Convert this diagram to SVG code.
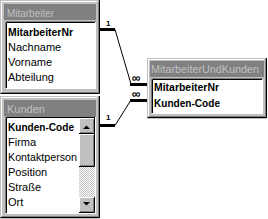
<svg xmlns="http://www.w3.org/2000/svg" width="268" height="219" viewBox="0 0 268 219">
<defs>
<style>
.frame{fill:#c0c0c0}
.dk{stroke:#808080;stroke-width:1;fill:none}
.bk{stroke:#000;stroke-width:1;fill:none}
.wh{stroke:#fff;stroke-width:1;fill:none}
.tbar{fill:#808080}
.ttl{font-family:"Liberation Sans",Arial,sans-serif;font-size:11px;fill:#c0c0c0}
.it{font-family:"Liberation Sans",Arial,sans-serif;font-size:11px;fill:#000}
.b{font-weight:bold}
.list{fill:#fff}
.thick{stroke:#000;stroke-width:3;fill:none}
.thin{stroke:#000;stroke-width:1;fill:none}
.lbl{font-family:"Liberation Sans",Arial,sans-serif;font-size:8px;font-weight:bold;fill:#000}
.inf{font-family:"Liberation Sans",Arial,sans-serif;font-size:12px;font-weight:bold;fill:#000}
</style>
<pattern id="chk" width="2" height="2" patternUnits="userSpaceOnUse">
<rect width="2" height="2" fill="#fff"/>
<rect width="1" height="1" fill="#c0c0c0"/>
<rect x="1" y="1" width="1" height="1" fill="#c0c0c0"/>
</pattern>
</defs>
<rect width="268" height="219" fill="#fff"/>

<g id="mitarbeiter">
<rect class="frame" x="0" y="0" width="100" height="94"/>
<path class="wh" d="M1.5,92.5 V1.5 H97.5"/>
<path class="dk" d="M1.5,92.5 H98.5 V1.5"/>
<path class="bk" d="M0.5,93.5 H99.5 V0"/>
<rect class="tbar" x="4" y="4" width="92" height="16"/>
<text class="ttl" x="7" y="17" textLength="47" lengthAdjust="spacingAndGlyphs">Mitarbeiter</text>
<rect class="list" x="5" y="21" width="91" height="68"/>
<path class="dk" d="M5.5,89 V21.5 H96"/>
<path class="bk" d="M6.5,88 V22.5 H95"/>
<path class="wh" d="M5.5,88.5 H95.5 V22"/>
<text class="it b" x="8" y="36" textLength="65" lengthAdjust="spacingAndGlyphs">MitarbeiterNr</text>
<text class="it" x="8" y="51">Nachname</text>
<text class="it" x="8" y="66">Vorname</text>
<text class="it" x="8" y="81">Abteilung</text>
</g>

<g id="kunden">
<rect class="frame" x="0" y="96" width="100" height="123"/>
<path class="wh" d="M1.5,217 V97.5 H97.5"/>
<path class="dk" d="M1.5,216.5 H98.5 V97"/>
<path class="bk" d="M0.5,217.5 H99.5 V96"/>
<rect class="tbar" x="4" y="100" width="92" height="16"/>
<text class="ttl" x="7" y="113">Kunden</text>
<rect class="list" x="5" y="116" width="91" height="98"/>
<path class="dk" d="M5.5,214 V116.5 H96"/>
<path class="bk" d="M6.5,213 V117.5 H95"/>
<path class="wh" d="M5.5,213.5 H95.5 V117"/>
<text class="it b" x="8" y="131" textLength="66" lengthAdjust="spacingAndGlyphs">Kunden-Code</text>
<text class="it" x="8" y="146">Firma</text>
<text class="it" x="8" y="161" textLength="69" lengthAdjust="spacingAndGlyphs">Kontaktperson</text>
<text class="it" x="8" y="176">Position</text>
<text class="it" x="8" y="191">Straße</text>
<text class="it" x="8" y="206">Ort</text>
<g id="scrollbar">
<rect x="79" y="118" width="16" height="95" fill="url(#chk)"/>
<rect class="frame" x="79" y="118" width="16" height="16"/>
<path class="wh" d="M79.5,133 V118.5 H94"/>
<path class="dk" d="M80,132.5 H93.5 V119"/>
<path class="bk" d="M79,133.5 H94.5 V118"/>
<path d="M83,129 H90 L86.5,125.5 Z" fill="#000"/>
<rect class="frame" x="79" y="134" width="16" height="33"/>
<path class="wh" d="M79.5,166 V134.5 H94"/>
<path class="dk" d="M80,165.5 H93.5 V135"/>
<path class="bk" d="M79,166.5 H94.5 V134"/>
<rect class="frame" x="79" y="197" width="16" height="16"/>
<path class="wh" d="M79.5,212 V197.5 H94"/>
<path class="dk" d="M80,211.5 H93.5 V198"/>
<path class="bk" d="M79,212.5 H94.5 V197"/>
<path d="M83,202 H90 L86.5,205.5 Z" fill="#000"/>
</g>
</g>

<g id="mitarbeiterundkunden">
<rect class="frame" x="147" y="58" width="120" height="61"/>
<path class="wh" d="M148.5,117 V59.5 H264.5"/>
<path class="dk" d="M148.5,116.5 H265.5 V59"/>
<path class="bk" d="M147.5,117.5 H266.5 V58"/>
<rect class="tbar" x="150" y="61" width="114" height="16"/>
<text class="ttl" x="151" y="73" textLength="108" lengthAdjust="spacingAndGlyphs">MitarbeiterUndKunden</text>
<rect class="list" x="151" y="78" width="112" height="36"/>
<path class="dk" d="M151.5,114 V78.5 H263"/>
<path class="bk" d="M152.5,113 V79.5 H262"/>
<path class="wh" d="M151.5,113.5 H262.5 V79"/>
<text class="it b" x="154" y="91" textLength="65" lengthAdjust="spacingAndGlyphs">MitarbeiterNr</text>
<text class="it b" x="154" y="107" textLength="66" lengthAdjust="spacingAndGlyphs">Kunden-Code</text>
</g>

<g id="connectors">
<path class="thick" d="M100,29.5 H115"/>
<path class="thin" d="M115,29.5 L131,84"/>
<path class="thick" d="M130,84.5 H147"/>
<text class="lbl" x="106" y="26">1</text>
<text class="inf" x="132" y="82">∞</text>
<path class="thick" d="M100,125.5 H115"/>
<path class="thin" d="M115,125.5 L131,100"/>
<path class="thick" d="M130,100.5 H147"/>
<text class="lbl" x="106" y="120">1</text>
<text class="inf" x="132" y="98">∞</text>
</g>
</svg>
